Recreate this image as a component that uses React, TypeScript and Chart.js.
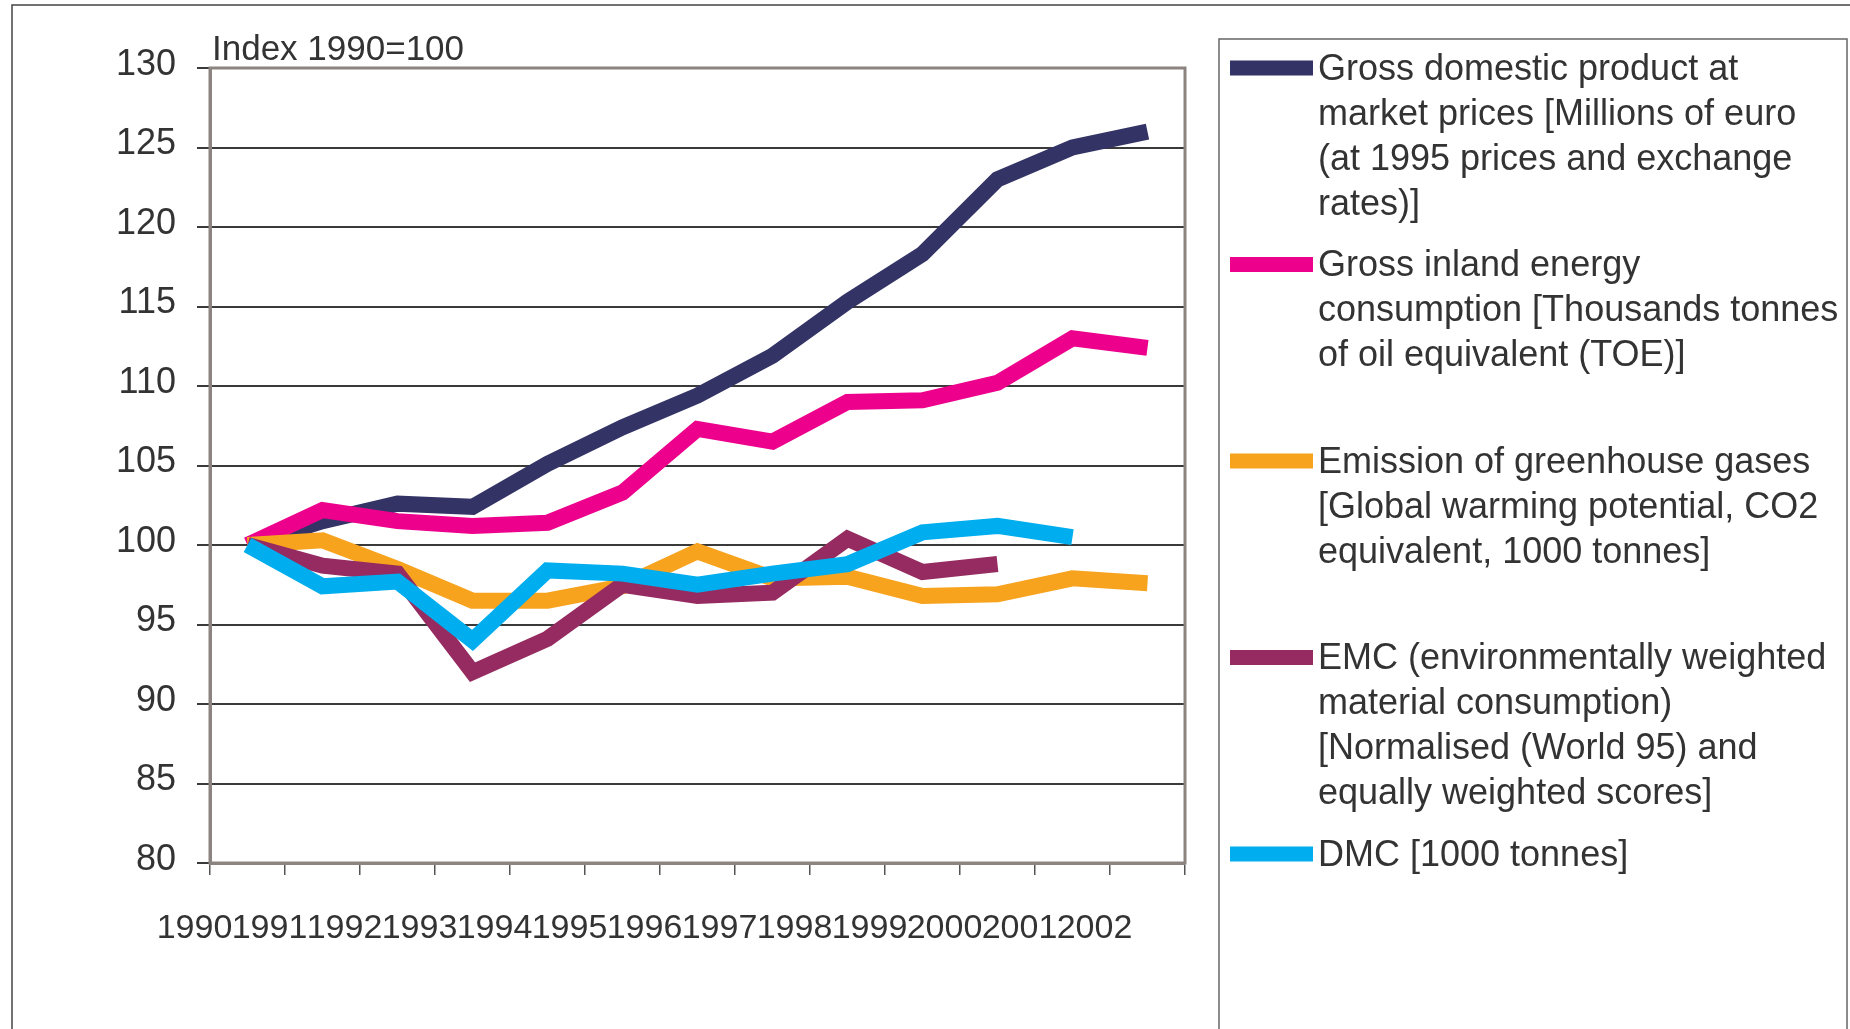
import React, { useEffect, useRef } from "react";
import { Chart, registerables } from "chart.js";

Chart.register(...registerables);

// ---- Data ---------------------------------------------------------------
const years = [
  "1990", "1991", "1992", "1993", "1994", "1995", "1996",
  "1997", "1998", "1999", "2000", "2001", "2002",
];

const gdpIndex = [100, 101.5, 102.6, 102.4, 105.1, 107.4, 109.4, 111.9, 115.3, 118.3, 123.0, 125.0, 126.0];
const energyIndex = [100, 102.2, 101.5, 101.2, 101.4, 103.3, 107.3, 106.5, 109.0, 109.1, 110.2, 113.0, 112.4];
const ghgIndex = [100, 100.3, 98.5, 96.5, 96.5, 97.4, 99.6, 97.9, 98.0, 96.8, 96.9, 97.9, 97.6];
const emcIndex = [100, 98.7, 98.2, 92.0, 94.1, 97.5, 96.8, 97.0, 100.4, 98.3, 98.8, null, null];
const dmcIndex = [100, 97.4, 97.7, 94.0, 98.4, 98.2, 97.5, 98.2, 98.8, 100.8, 101.2, 100.5, null];

const yTicks = [80, 85, 90, 95, 100, 105, 110, 115, 120, 125, 130];

const gdpLabel = ["Gross domestic product at", "market prices [Millions of euro", "(at 1995 prices and exchange", "rates)]"];
const energyLabel = ["Gross inland energy", "consumption [Thousands tonnes", "of oil equivalent (TOE)]"];
const ghgLabel = ["Emission of greenhouse gases", "[Global warming potential, CO2", "equivalent, 1000 tonnes]"];
const emcLabel = ["EMC (environmentally weighted", "material consumption)", "[Normalised (World 95) and", "equally weighted scores]"];
const dmcLabel = ["DMC [1000 tonnes]"];

const indexTitle = "Index 1990=100";

// ---- Styling ------------------------------------------------------------
const FONT = '"Liberation Sans", Arial, Helvetica, sans-serif';
const TEXT = "#333333";
const W = 1850;
const H = 1029;
const LINE_WIDTH = 16;

const series = [
  { label: gdpLabel, data: gdpIndex, color: "#333366" },
  { label: energyLabel, data: energyIndex, color: "#EC008C" },
  { label: ghgLabel, data: ghgIndex, color: "#F7A31E" },
  { label: emcLabel, data: emcIndex, color: "#952B60" },
  { label: dmcLabel, data: dmcIndex, color: "#00ADEE" },
];

// Frame, plot border, index caption and the wrapped legend box
const decorations = {
  id: "decorations",
  beforeDatasetsDraw(chart: any) {
    const { ctx, chartArea: a } = chart;
    ctx.save();
    ctx.strokeStyle = "#8c8480";
    ctx.lineWidth = 3;
    ctx.strokeRect(a.left, a.top, a.right - a.left, a.bottom - a.top);
    ctx.restore();
  },
  afterDraw(chart: any) {
    const { ctx, chartArea: a } = chart;
    ctx.save();

    // outer frame
    ctx.strokeStyle = "#444444";
    ctx.lineWidth = 1.5;
    ctx.strokeRect(12, 5, W + 20, H + 20);

    // caption above the value axis
    ctx.fillStyle = TEXT;
    ctx.font = `35px ${FONT}`;
    ctx.textAlign = "left";
    ctx.textBaseline = "middle";
    ctx.fillText(indexTitle, a.left + 2, 50.5);

    // legend box
    const boxLeft = 1219;
    const boxTop = 39;
    const boxRight = 1847;
    ctx.strokeStyle = "#666666";
    ctx.lineWidth = 1.5;
    ctx.strokeRect(boxLeft, boxTop, boxRight - boxLeft, H + 20);

    const firstY = 70;
    const entryGap = 196.5;
    const lineGap = 45;
    ctx.font = `36px ${FONT}`;
    chart.data.datasets.forEach((ds: any, i: number) => {
      const y = firstY + i * entryGap;
      ctx.strokeStyle = ds.borderColor;
      ctx.lineWidth = 15;
      ctx.lineCap = "butt";
      ctx.beginPath();
      ctx.moveTo(1230, y - 2);
      ctx.lineTo(1313, y - 2);
      ctx.stroke();
      ctx.fillStyle = TEXT;
      (ds.legendLines as string[]).forEach((line, k) => {
        ctx.fillText(line, 1318, y + k * lineGap);
      });
    });
    ctx.restore();
  },
};

export default function App() {
  const canvasRef = useRef<HTMLCanvasElement | null>(null);

  useEffect(() => {
    if (!canvasRef.current) return;
    const chart = new Chart(canvasRef.current, {
      type: "line",
      data: {
        labels: years,
        datasets: series.map((s, i) => ({
          label: s.label.join(" "),
          legendLines: s.label,
          data: s.data,
          borderColor: s.color,
          backgroundColor: s.color,
          borderWidth: LINE_WIDTH,
          borderJoinStyle: "miter",
          borderCapStyle: "butt",
          pointRadius: 0,
          pointHoverRadius: 0,
          tension: 0,
          spanGaps: false,
          order: series.length - i,
        })) as any,
      },
      options: {
        animation: false,
        responsive: false,
        devicePixelRatio: 1,
        layout: { padding: { left: 0, top: 68, right: W - 1185, bottom: 0 } },
        plugins: {
          legend: { display: false },
          tooltip: { enabled: false },
        },
        scales: {
          x: {
            type: "category",
            offset: true,
            afterFit: (s: any) => {
              s.height = H - 863;
            },
            grid: {
              offset: true,
              drawOnChartArea: false,
              drawTicks: true,
              tickLength: 12,
              color: "#555555",
              lineWidth: 1.5,
            },
            border: { display: true, color: "#8c8480", width: 3 },
            ticks: {
              autoSkip: false,
              maxRotation: 0,
              minRotation: 0,
              padding: 33,
              labelOffset: -53,
              color: TEXT,
              font: { family: FONT, size: 34 },
            },
          },
          y: {
            type: "linear",
            min: 80,
            max: 130,
            afterFit: (s: any) => {
              s.width = 210;
            },
            afterBuildTicks: (s: any) => {
              s.ticks = yTicks.map((v) => ({ value: v }));
            },
            grid: {
              color: "#3a3a3a",
              lineWidth: 2,
              drawTicks: true,
              tickLength: 13,
            },
            border: { display: true, color: "#8c8480", width: 3 },
            ticks: {
              padding: 21,
              labelOffset: -3,
              color: TEXT,
              font: { family: FONT, size: 36 },
            },
          },
        },
      } as any,
      plugins: [decorations],
    });
    return () => chart.destroy();
  }, []);

  return (
    <div style={{ position: "fixed", left: 0, top: 0, width: W, height: H, background: "#ffffff" }}>
      <canvas ref={canvasRef} width={W} height={H} style={{ display: "block" }} />
    </div>
  );
}
